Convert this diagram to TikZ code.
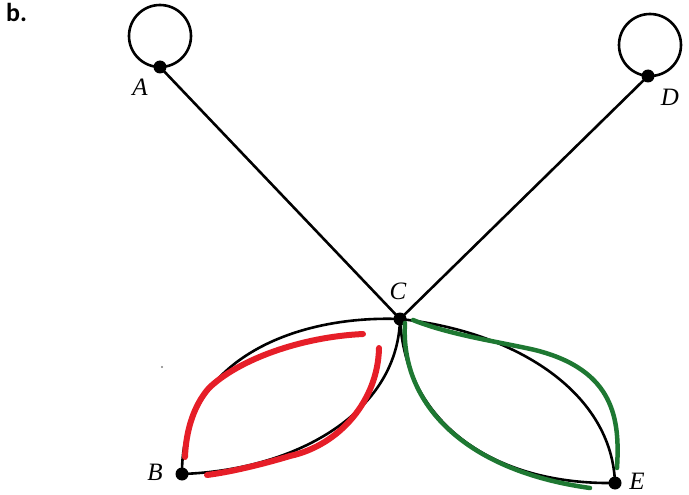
\documentclass[tikz,border=0pt]{standalone}
\usepackage{fontspec}
\setmainfont{Liberation Serif}
\newfontfamily\labfont{Carlito}
\definecolor{myred}{RGB}{230,30,40}
\definecolor{mygreen}{RGB}{30,120,50}
\begin{document}
\begin{tikzpicture}[x=1pt,y=-1pt,
  edge/.style={line width=2.6pt,black},
  vdot/.style={circle,fill=black,inner sep=0pt,minimum size=13pt},
  vlab/.style={font=\fontsize{25}{29}\selectfont\itshape,inner sep=1pt},
  redline/.style={line width=6pt,myred,line cap=round},
  greenline/.style={line width=4.5pt,mygreen,line cap=round}]
\useasboundingbox (0,0) rectangle (689,495);
\node[anchor=north west,inner sep=0pt,font=\labfont\fontsize{26}{30}\selectfont\bfseries] (lbl) at (6,3) {b.};
% vertices
\node[vdot] (A) at (160,67) {};
\node[vdot] (D) at (648,76) {};
\node[vdot] (C) at (400,319) {};
\node[vdot] (B) at (182,474) {};
\node[vdot] (E) at (615,483) {};
% labels
\node[vlab] (lA) at (140,87) {A};
\node[vlab] (lD) at (670,97) {D};
\node[vlab] (lC) at (398,291) {C};
\node[vlab] (lB) at (155,472) {B};
\node[vlab] (lE) at (637,481) {E};
% loops
\draw[edge] (160,36) circle[radius=31];
\draw[edge] (650,45) circle[radius=31];
% straight edges
\draw[edge] (A.center) -- (C.center);
\draw[edge] (D.center) -- (C.center);
% left lens
\draw[edge] (C.center) .. controls (292,315) and (181,362) .. (B.center);
\draw[edge] (C.center) .. controls (398,410) and (300,470) .. (B.center);
% right lens
\draw[edge] (C.center) .. controls (520,332) and (612,395) .. (E.center);
\draw[edge] (C.center) .. controls (405,420) and (490,485) .. (E.center);
% red strokes
\draw[redline] (363,334) .. controls (300,337) and (238,360) .. (209,388) .. controls (194,405) and (186,430) .. (185,457);
\draw[redline] (379,348) .. controls (378,400) and (340,445) .. (290,456) .. controls (260,465) and (230,472) .. (207,475);
% green strokes
\draw[greenline] (413,320) .. controls (450,335) and (500,342) .. (535,350) .. controls (615,370) and (620,420) .. (617,468);
\draw[greenline] (405,323) .. controls (400,400) and (460,470) .. (590,488);
% stray mark
\fill[gray] (162,367) circle[radius=1.2];
\end{tikzpicture}
\end{document}
